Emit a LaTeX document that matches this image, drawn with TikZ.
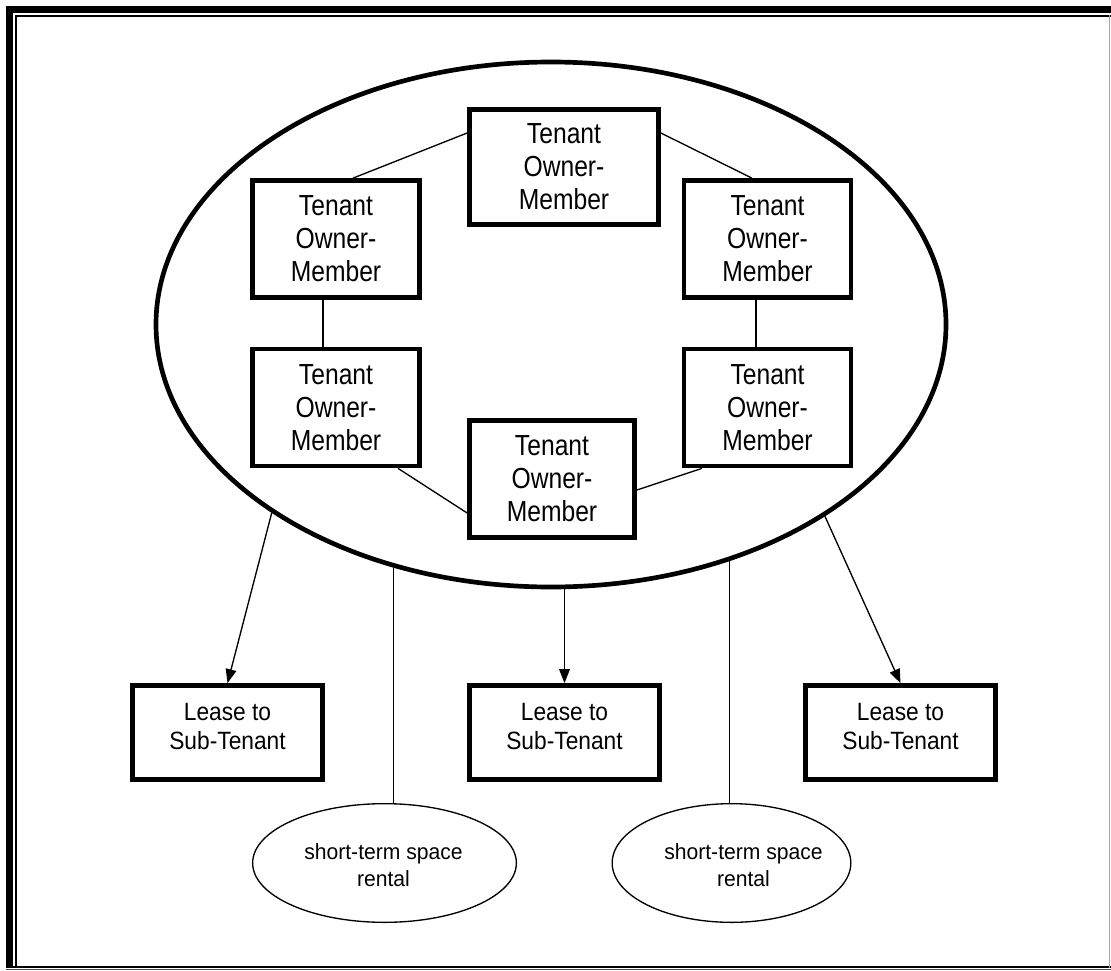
\documentclass[tikz,border=0pt]{standalone}
\usepackage{fontspec}
\setmainfont{Liberation Sans}
\newfontfamily\tomfont[FakeStretch=0.85]{Liberation Sans}
\newfontfamily\leasefont[FakeStretch=0.91]{Liberation Sans}
\newfontfamily\rentfont[FakeStretch=0.96]{Liberation Sans}
\usetikzlibrary{shapes.geometric,arrows.meta}

\begin{document}
\begin{tikzpicture}[x=0.75pt,y=-0.75pt,
  member/.style={draw,rectangle,line width=3.5pt,inner sep=0pt,align=center,
    font=\tomfont\fontsize{21.75pt}{24.75pt}\selectfont,
    minimum width=125.3pt,minimum height=87.8pt},
  lease/.style={draw,rectangle,line width=3.5pt,inner sep=0pt,align=center,
    font=\leasefont\fontsize{18.75pt}{21.75pt}\selectfont,
    minimum width=142.5pt,minimum height=70.5pt},
  rental/.style={draw,ellipse,line width=1pt,inner sep=0pt,minimum height=89pt},
  rentaltext/.style={align=center,inner sep=0pt,
    font=\rentfont\fontsize{16.5pt}{20.25pt}\selectfont},
  link/.style={line width=1pt},
  feed/.style={line width=1pt,-{Triangle[length=10.5pt,width=8pt]}}]

\useasboundingbox (0,0) rectangle (1111,971);

% page frame
\draw[line width=5pt] (9.3,968) -- (9.3,9.3) -- (1111,9.3);
\draw[line width=1.5pt] (15.7,966) -- (15.7,15.7) -- (1111,15.7);
\draw[line width=1.5pt] (6,967) -- (1111,967);
\draw[line width=0.75pt,black!70] (6,969.8) -- (1111,969.8);
\draw[line width=1pt,black!35] (1109.5,15) -- (1109.5,968);

% the cooperative
\node[draw,ellipse,line width=3.5pt,inner sep=0pt,
      minimum width=592.5pt,minimum height=393.75pt] (grp) at (551,324.5) {};

\node[member,minimum width=141.8pt,minimum height=86.3pt] (top) at (564,167) {Tenant\\Owner-\\Member};
\node[member] (ul) at (336,239) {Tenant\\Owner-\\Member};
\node[member] (ur) at (767.5,239) {Tenant\\Owner-\\Member};
\node[member] (ml) at (336,407.5) {Tenant\\Owner-\\Member};
\node[member] (mr) at (767.5,407.5) {Tenant\\Owner-\\Member};
\node[member,minimum width=123.8pt] (bc) at (552,479) {Tenant\\Owner-\\Member};

\draw[link] (top.west |- 0,133) -- (ul.north -| 353,0);
\draw[link] (top.east |- 0,133) -- (ur.north -| 752,0);
\draw[link] (ul.south -| 323,0) -- (ml.north -| 323,0);
\draw[link] (ur.south -| 756,0) -- (mr.north -| 756,0);
\draw[link] (ml.south -| 398,0) -- (bc.west |- 0,513);
\draw[link] (bc.east |- 0,490) -- (mr.south -| 702,0);

% leases
\node[lease,text depth=9pt] (l1) at (227.5,732.5) {Lease to\\Sub-Tenant};
\node[lease,text depth=9pt] (l2) at (564.5,732.5) {Lease to\\Sub-Tenant};
\node[lease,text depth=9pt] (l3) at (900.5,732.5) {Lease to\\Sub-Tenant};

\draw[feed] (grp.214.9) -- (l1.north);
\draw[feed] (l2.north |- grp.south) -- (l2.north);
\draw[feed] (grp.325.2) -- (l3.north);

% short-term rentals
\node[rental,minimum width=197.8pt] (r1) at (384.5,863) {};
\node[rentaltext] (t1) at (383.5,865) {short-term space\\rental};
\node[rental,minimum width=179pt] (r2) at (731.5,863) {};
\node[rentaltext] (t2) at (743.5,865) {short-term space\\rental};

\draw[link] (grp.237.3) -- (grp.237.3 |- r1.north);
\draw[link] (grp.307.8) -- (grp.307.8 |- r2.north);
\end{tikzpicture}
\end{document}
